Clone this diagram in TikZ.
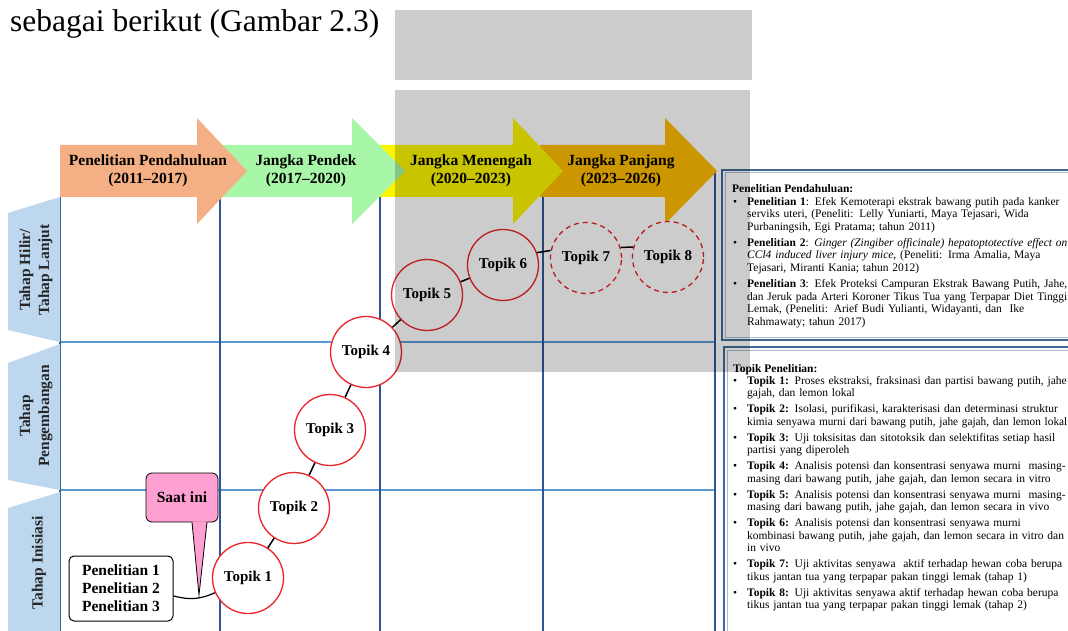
\documentclass[tikz,border=0pt]{standalone}
\usepackage{fontspec}
\usepackage{graphicx}
\setmainfont{Liberation Serif}

\definecolor{arrowOrange}{RGB}{244,176,132}
\definecolor{arrowGreen}{RGB}{168,246,168}
\definecolor{arrowYellow}{RGB}{250,246,0}
\definecolor{arrowGold}{RGB}{255,188,0}
\definecolor{gridDark}{RGB}{47,85,151}
\definecolor{gridLight}{RGB}{91,155,213}
\definecolor{stageBlue}{RGB}{189,215,238}
\definecolor{topikRed}{RGB}{235,35,40}
\definecolor{saatPink}{RGB}{255,160,210}
\definecolor{boxBlue}{RGB}{65,105,150}

\newsavebox{\notelinebox}
\newcommand{\bulletmark}{\leavevmode\llap{\textbullet\hspace{10pt}}}
\newcommand{\fullline}[1]{\sbox{\notelinebox}{#1}%
  \ifdim\wd\notelinebox>320pt\resizebox{320pt}{\height}{\usebox{\notelinebox}}%
  \else\makebox[320pt][s]{#1}\fi}

\begin{document}
\begin{tikzpicture}[x=1pt, y=-1pt,
    vline/.style={draw=gridDark, line width=1.8pt},
    hline/.style={draw=gridLight, line width=1.8pt},
    phase/.style={font=\fontsize{15.5}{18}\selectfont\bfseries, align=center, inner sep=0pt},
    stagetext/.style={font=\fontsize{15.5}{19}\selectfont\bfseries, align=center, rotate=90, inner sep=0pt, text=black!85},
    topik/.style={circle, draw=topikRed, line width=1.3pt, fill=white, minimum size=71pt, inner sep=0pt, font=\fontsize{15}{18}\selectfont\bfseries},
    topikplan/.style={topik, dash pattern=on 5pt off 4pt},
    link/.style={draw=black, line width=1.5pt},
    boxouter/.style={draw=boxBlue, line width=1.6pt},
    boxinner/.style={draw=boxBlue!45, line width=1pt},
    notes/.style={anchor=north west, inner sep=0pt, text width=330pt, align=left, font=\fontsize{11.5}{12.6}\selectfont},
    notetitle/.style={anchor=west, inner sep=0pt, font=\fontsize{11.5}{12.6}\selectfont\bfseries}
]
    \fill[white] (0,0) rectangle (1068,631);
    \useasboundingbox (0,0) rectangle (1068,631);
    \node[anchor=base west, inner sep=0pt, font=\fontsize{31.5}{36}\selectfont] (intro) at (10,32) {sebagai berikut (Gambar 2.3)};

    % grid
    \draw[hline] (60,342) -- (715,342);
    \draw[hline] (60,490) -- (715,490);
    \draw[vline] (60,197) -- (60,631);
    \draw[vline] (220,197) -- (220,631);
    \draw[vline] (380,197) -- (380,631);
    \draw[vline] (543,197) -- (543,631);
    \draw[vline] (715,172) -- (715,631);

    % time arrows
    \fill[arrowGold] (540,145) -- (665,145) -- (665,118) -- (717,171) -- (665,224) -- (665,197) -- (540,197) -- cycle;
    \fill[arrowYellow] (370,145) -- (513,145) -- (513,118) -- (563,171) -- (513,224) -- (513,197) -- (370,197) -- cycle;
    \fill[arrowGreen] (215,145) -- (352,145) -- (352,118) -- (405,171) -- (352,224) -- (352,197) -- (215,197) -- cycle;
    \fill[arrowOrange] (60,145) -- (197,145) -- (197,118) -- (247,171) -- (197,224) -- (197,197) -- (60,197) -- cycle;
    \node[phase] (pp) at (148,171) {Penelitian Pendahuluan\\(2011--2017)};
    \node[phase] (jpendek) at (306,171) {Jangka Pendek\\(2017--2020)};
    \node[phase] (jmenengah) at (471,171) {Jangka Menengah\\(2020--2023)};
    \node[phase] (jpanjang) at (621,171) {Jangka Panjang\\(2023--2026)};

    % stages
    \fill[stageBlue] (8,213) -- (60,197) -- (60,342) -- (8,330) -- cycle;
    \fill[stageBlue] (8,363) -- (60,344) -- (60,490) -- (8,480) -- cycle;
    \fill[stageBlue] (8,508) -- (60,492) -- (60,631) -- (8,631) -- cycle;
    \node[stagetext] (hilir) at (36,270) {Tahap Hilir/\\Tahap Lanjut};
    \node[stagetext] (kembang) at (36,416) {Tahap\\Pengembangan};
    \node[stagetext] (inisiasi) at (39,563) {Tahap Inisiasi};

    % topics
    \node[topik] (t1) at (248,578) {Topik 1};
    \node[topik] (t2) at (294,508) {Topik 2};
    \node[topik] (t3) at (330,430) {Topik 3};
    \node[topik] (t4) at (366,352) {Topik 4};
    \node[topik] (t5) at (427,295) {Topik 5};
    \node[topik] (t6) at (503,265) {Topik 6};
    \node[topikplan] (t7) at (586,258) {Topik 7};
    \node[topikplan] (t8) at (668,257) {Topik 8};
    \draw[link] (t1) -- (t2);
    \draw[link] (t2) -- (t3);
    \draw[link] (t3) -- (t4);
    \draw[link] (t4) -- (t5);
    \draw[link] (t5) -- (t6);
    \draw[link] (t6.20) -- (t7.168);
    \draw[link] (t7.17) -- (t8.164);

    % earlier research
    \node[draw, fill=white, rounded corners=5pt, line width=1pt, minimum width=104pt, minimum height=65pt, align=center, font=\fontsize{15.5}{18}\selectfont\bfseries] (pen) at (121,588.5) {Penelitian 1\\Penelitian 2\\Penelitian 3};
    \draw[draw=black, line width=1.2pt] (pen.-8) to[bend right=20] (t1.204);

    % now marker
    \node[draw, fill=saatPink, rounded corners=6pt, line width=0.8pt, minimum width=72pt, minimum height=49pt, font=\fontsize{15.5}{18}\selectfont\bfseries] (saat) at (182,497.5) {Saat ini};
    \coordinate (now) at (199,595);
    \fill[saatPink] (191.6,521.4) -- (now) -- (207.4,521.4) -- cycle;
    \draw[line width=0.8pt] (192,522) -- (now) -- (207,522);

    % notes
    \draw[boxouter] (722,170) rectangle (1090,340);
    \draw[boxinner] (725,173) rectangle (1090,337);
    \draw[boxouter] (724,347) rectangle (1090,650);
    \draw[boxinner] (727,350) rectangle (1090,650);
    \node[notetitle] (pptitle) at (732,189) {Penelitian Pendahuluan:};
    \node[notes] (ppnotes) at (747,197) {%
        \bulletmark\fullline{\textbf{Penelitian 1}: Efek Kemoterapi ekstrak bawang putih pada kanker}\\
        \fullline{serviks uteri, (Peneliti: Lelly Yuniarti, Maya Tejasari, Wida}\\
        Purbaningsih, Egi Pratama; tahun 2011)\\[3.3pt]
        \bulletmark\fullline{\textbf{Penelitian 2}: \textit{Ginger (Zingiber officinale) hepatoptotective effect on}}\\
        \fullline{\textit{CCl4 induced liver injury mice}, (Peneliti: Irma Amalia, Maya}\\
        Tejasari, Miranti Kania; tahun 2012)\\[3.3pt]
        \bulletmark\fullline{\textbf{Penelitian 3}: Efek Proteksi Campuran Ekstrak Bawang Putih, Jahe,}\\
        \fullline{dan Jeruk pada Arteri Koroner Tikus Tua yang Terpapar Diet Tinggi}\\
        \fullline{Lemak, (Peneliti: Arief Budi Yulianti, Widayanti, dan \ Ike}\\
        Rahmawaty; tahun 2017)};
    \node[notetitle] (tptitle) at (733,370) {Topik Penelitian:};
    \node[notes] (tpnotes) at (747,376) {%
        \bulletmark\fullline{\textbf{Topik 1:} Proses ekstraksi, fraksinasi dan partisi bawang putih, jahe}\\
        gajah, dan lemon lokal\\[3.3pt]
        \bulletmark\fullline{\textbf{Topik 2:} Isolasi, purifikasi, karakterisasi dan determinasi struktur}\\
        \fullline{kimia senyawa murni dari bawang putih, jahe gajah, dan lemon lokal}\\[3.3pt]
        \bulletmark\fullline{\textbf{Topik 3:} Uji toksisitas dan sitotoksik dan selektifitas setiap hasil}\\
        partisi yang diperoleh\\[3.3pt]
        \bulletmark\fullline{\textbf{Topik 4:} Analisis potensi dan konsentrasi senyawa murni \ masing-}\\
        masing dari bawang putih, jahe gajah, dan lemon secara in vitro\\[3.3pt]
        \bulletmark\fullline{\textbf{Topik 5:} Analisis potensi dan konsentrasi senyawa murni \ masing-}\\
        masing dari bawang putih, jahe gajah, dan lemon secara in vivo\\[3.3pt]
        \bulletmark\fullline{\textbf{Topik 6:} Analisis potensi dan konsentrasi senyawa murni}\\
        \fullline{kombinasi bawang putih, jahe gajah, dan lemon secara in vitro dan}\\
        in vivo\\[3.3pt]
        \bulletmark\fullline{\textbf{Topik 7:} Uji aktivitas senyawa \ aktif terhadap hewan coba berupa}\\
        tikus jantan tua yang terpapar pakan tinggi lemak (tahap 1)\\[3.3pt]
        \bulletmark\fullline{\textbf{Topik 8:} Uji aktivitas senyawa aktif terhadap hewan coba berupa}\\
        tikus jantan tua yang terpapar pakan tinggi lemak (tahap 2)};

    % grey blocks over the figure
    \fill[black, opacity=0.2] (395,10) rectangle (752,80);
    \fill[black, opacity=0.2] (395,90) rectangle (750,372);
\end{tikzpicture}
\end{document}
